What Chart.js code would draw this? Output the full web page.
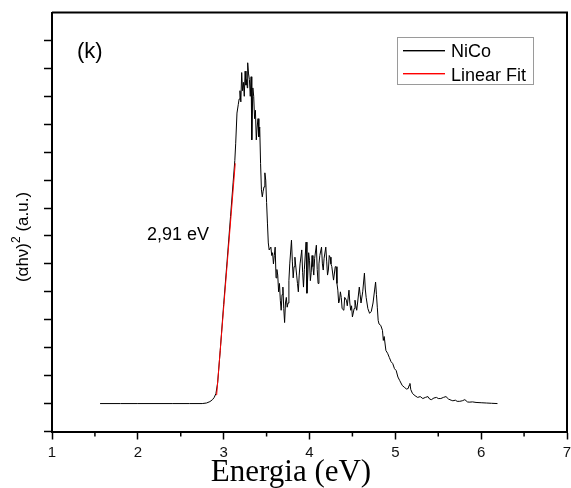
<!DOCTYPE html>
<html>
<head>
<meta charset="utf-8">
<title>NiCo - Tauc plot</title>
<script src="https://cdn.jsdelivr.net/npm/chart.js@4.4.1/dist/chart.umd.min.js"></script>
<style>
    html, body { margin: 0; padding: 0; background: #ffffff; }
    #taucChart { display: block; }
</style>
</head>
<body>
<canvas id="taucChart" width="571" height="488"></canvas>
<script>
/* ============================================
   Data
   ============================================ */

// NiCo spectrum: photon energy (eV)
const energy = [
    1.56, 1.80, 2.00, 2.20, 2.40, 2.60, 2.75, 2.80, 2.84, 2.87, 2.89, 2.91,
    2.93, 2.96, 3.00, 3.04, 3.08, 3.11, 3.13, 3.14, 3.155, 3.17, 3.18, 3.19,
    3.20, 3.21, 3.22, 3.23, 3.24, 3.25, 3.26, 3.27, 3.275, 3.28, 3.29, 3.30,
    3.31, 3.32, 3.325, 3.33, 3.34, 3.35, 3.36, 3.37, 3.38, 3.39, 3.40, 3.41,
    3.42, 3.43, 3.44, 3.45, 3.46, 3.47, 3.48, 3.49, 3.50, 3.51, 3.52, 3.53,
    3.55, 3.56, 3.57, 3.58, 3.59, 3.60, 3.61, 3.62, 3.63, 3.64, 3.65, 3.66,
    3.67, 3.68, 3.69, 3.70, 3.71, 3.72, 3.73, 3.74, 3.75, 3.76, 3.77, 3.79,
    3.80, 3.81, 3.82, 3.83, 3.85, 3.86, 3.87, 3.88, 3.89, 3.91, 3.92, 3.93,
    3.94, 3.96, 3.97, 3.98, 3.99, 4.00, 4.01, 4.02, 4.03, 4.04, 4.05, 4.06,
    4.08, 4.09, 4.10, 4.11, 4.12, 4.14, 4.15, 4.16, 4.17, 4.19, 4.20, 4.21,
    4.22, 4.23, 4.24, 4.25, 4.26, 4.28, 4.30, 4.31, 4.32, 4.33, 4.34, 4.35,
    4.36, 4.37, 4.38, 4.40, 4.41, 4.43, 4.44, 4.46, 4.47, 4.48, 4.49, 4.50,
    4.52, 4.53, 4.54, 4.55, 4.56, 4.58, 4.59, 4.60, 4.62, 4.64, 4.65, 4.66,
    4.68, 4.70, 4.72, 4.74, 4.76, 4.77, 4.78, 4.79, 4.80, 4.81, 4.83, 4.85,
    4.86, 4.87, 4.89, 4.91, 4.93, 4.95, 4.97, 4.99, 5.01, 5.03, 5.05, 5.08,
    5.11, 5.13, 5.15, 5.16, 5.17, 5.18, 5.20, 5.23, 5.26, 5.29, 5.32, 5.35,
    5.38, 5.40, 5.42, 5.45, 5.48, 5.50, 5.53, 5.56, 5.59, 5.62, 5.65, 5.67,
    5.70, 5.72, 5.75, 5.78, 5.81, 5.84, 5.86, 5.90, 5.94, 6.00, 6.06, 6.12,
    6.19
];

// NiCo spectrum: (alpha h nu)^2 in arbitrary units
const absorption = [
    0, 0, 0, 0, 0, 0, 0, 0.02, 0.07, 0.14, 0.22, 0.36,
    0.75, 1.9, 3.55, 5.1, 6.7, 7.9, 8.7, 9.3, 10.4, 10.7, 10.9, 11.2,
    10.8, 11.85, 11.2, 11.5, 11.0, 11.9, 11.4, 11.6, 11.3, 12.2, 11.8, 11.6,
    11.0, 11.7, 10.5, 9.44, 11.3, 11.0, 10.2, 10.5, 9.44, 9.9, 10.2, 9.55,
    9.9, 8.6, 7.65, 7.4, 7.6, 7.76, 8.26, 8.0, 7.2, 6.46, 5.75, 5.5,
    5.6, 5.3, 5.4, 5.0, 5.3, 5.6, 4.5, 4.8, 4.6, 4.0, 4.3, 3.7,
    3.34, 3.9, 4.17, 3.4, 2.9, 3.6, 3.8, 3.45, 3.6, 4.4, 5.0, 5.85,
    5.1, 4.5, 4.9, 5.24, 4.6, 4.3, 4.0, 4.6, 5.0, 5.5, 4.7, 4.17,
    4.8, 5.78, 3.95, 4.6, 5.4, 5.13, 4.4, 4.7, 5.3, 4.9, 4.6, 5.2,
    5.67, 4.8, 4.3, 5.0, 5.3, 5.6, 5.0, 4.78, 5.2, 5.6, 5.1, 4.6,
    4.78, 5.3, 5.24, 5.0, 4.9, 4.42, 4.9, 4.9, 4.3, 4.06, 3.6, 3.7,
    4.0, 3.8, 3.4, 3.34, 3.8, 3.7, 3.5, 4.06, 3.6, 3.34, 3.5, 3.1,
    3.4, 3.7, 3.5, 3.34, 3.6, 4.17, 3.9, 3.6, 4.0, 4.67, 4.1, 3.8,
    3.4, 3.23, 3.3, 3.6, 4.1, 4.35, 3.9, 3.45, 2.98, 2.85, 2.8, 2.62,
    2.26, 2.4, 1.9, 1.8, 1.65, 1.5, 1.43, 1.25, 1.18, 0.95, 0.83, 0.65,
    0.57, 0.52, 0.54, 0.65, 0.72, 0.5, 0.36, 0.28, 0.22, 0.25, 0.18, 0.22,
    0.25, 0.16, 0.14, 0.2, 0.22, 0.18, 0.18, 0.22, 0.25, 0.16, 0.12, 0.1,
    0.12, 0.08, 0.08, 0.1, 0.14, 0.06, 0.05, 0.06, 0.04, 0.03, 0.02, 0.01,
    0
];

// Linear fit of the absorption edge (intercept at 2,91 eV)
const fitEnergy = [2.918, 3.135];
const fitValue = [0.3, 8.6];

// Tick positions
const xTicks = [1, 2, 3, 4, 5, 6, 7];
const xMinorTicks = [1.5, 2.5, 3.5, 4.5, 5.5, 6.5];
const yTicks = [-1, 0, 1, 2, 3, 4, 5, 6, 7, 8, 9, 10, 11, 12, 13];

/* ============================================
   Helpers
   ============================================ */

const toPoints = (xs, ys) => xs.map((x, i) => ({ x: x, y: ys[i] }));

const FONT_SANS = '"Liberation Sans", Arial, sans-serif';
const FONT_SERIF = '"Liberation Serif", "Times New Roman", serif';

const SERIES_COLORS = { nico: '#000000', fit: '#ff0000' };

/**
 * Rotated y title with a real superscript
 */
function drawYTitle(ctx, cx, cy) {
    const main = '(\u03B1h\u03BD)';
    const rest = ' (a.u.)';
    ctx.save();
    ctx.translate(cx, cy);
    ctx.rotate(-Math.PI / 2);
    ctx.font = '17px ' + FONT_SANS;
    const wMain = ctx.measureText(main).width;
    const wRest = ctx.measureText(rest).width;
    ctx.font = '12px ' + FONT_SANS;
    const wSup = ctx.measureText('2').width;
    let x = -(wMain + wSup + wRest) / 2;
    ctx.textAlign = 'left';
    ctx.font = '17px ' + FONT_SANS;
    ctx.fillText(main, x, 0);
    x += wMain;
    ctx.font = '12px ' + FONT_SANS;
    ctx.fillText('2', x, -8);
    x += wSup;
    ctx.font = '17px ' + FONT_SANS;
    ctx.fillText(rest, x, 0);
    ctx.restore();
}

/**
 * Frame, minor ticks, legend box and free text
 */
const decorationsPlugin = {
    id: 'decorations',
    afterDraw(chart) {
        const ctx = chart.ctx;
        const area = chart.chartArea;
        const xScale = chart.scales.x;

        ctx.save();

        // top and right frame
        ctx.strokeStyle = '#000';
        ctx.lineWidth = 2;
        ctx.beginPath();
        ctx.moveTo(area.left, area.top);
        ctx.lineTo(area.right, area.top);
        ctx.lineTo(area.right, area.bottom);
        ctx.stroke();

        // minor ticks on the energy axis
        ctx.lineWidth = 1.5;
        ctx.beginPath();
        xMinorTicks.forEach(v => {
            const px = xScale.getPixelForValue(v);
            ctx.moveTo(px, area.bottom);
            ctx.lineTo(px, area.bottom + 5);
        });
        ctx.stroke();

        // legend
        const box = { x: 397.5, y: 37.5, w: 136, h: 47 };
        ctx.fillStyle = '#ffffff';
        ctx.fillRect(box.x, box.y, box.w, box.h);
        ctx.strokeStyle = '#9a9a9a';
        ctx.lineWidth = 1;
        ctx.strokeRect(box.x, box.y, box.w, box.h);

        ctx.font = '18px ' + FONT_SANS;
        ctx.textBaseline = 'alphabetic';
        ctx.textAlign = 'left';
        const rows = [
            { y: 50, base: 57, color: SERIES_COLORS.nico, label: chart.data.datasets[0].label },
            { y: 73, base: 80.5, color: SERIES_COLORS.fit, label: chart.data.datasets[1].label }
        ];
        rows.forEach(r => {
            ctx.fillStyle = r.color;
            ctx.fillRect(403, r.y, 42, 1.4);
            ctx.fillStyle = '#000';
            ctx.fillText(r.label, 451, r.base);
        });

        // panel label and band gap value
        ctx.fillStyle = '#000';
        ctx.font = '22px ' + FONT_SANS;
        ctx.fillText('(k)', 77, 58);
        ctx.font = '18px ' + FONT_SANS;
        ctx.fillText('2,91 eV', 147, 240);

        // x title
        ctx.font = '31px ' + FONT_SERIF;
        ctx.textAlign = 'center';
        ctx.fillText('Energia (eV)', 291, 481);
        ctx.restore();

        // y title
        ctx.fillStyle = '#000';
        drawYTitle(ctx, 28, 237);
    }
};

/* ============================================
   Chart
   ============================================ */

const canvas = document.getElementById('taucChart');

const chart = new Chart(canvas, {
    type: 'line',
    data: {
        datasets: [
            {
                label: 'NiCo',
                data: toPoints(energy, absorption),
                borderColor: SERIES_COLORS.nico,
                borderWidth: 1,
                pointRadius: 0,
                tension: 0,
                order: 1
            },
            {
                label: 'Linear Fit',
                data: toPoints(fitEnergy, fitValue),
                borderColor: SERIES_COLORS.fit,
                borderWidth: 1,
                pointRadius: 0,
                tension: 0,
                order: 0
            }
        ]
    },
    options: {
        responsive: false,
        animation: false,
        devicePixelRatio: 1,
        layout: {
            padding: { top: 12.5, right: 4, left: 0, bottom: 0 }
        },
        plugins: {
            legend: { display: false },
            tooltip: { enabled: false }
        },
        scales: {
            x: {
                type: 'linear',
                min: 1,
                max: 7,
                afterFit: scale => {
                    scale.height = 56.5;
                    scale.paddingLeft = 0;
                    scale.paddingRight = 0;
                },
                afterBuildTicks: scale => {
                    scale.ticks = xTicks.map(v => ({ value: v }));
                },
                ticks: {
                    color: '#111',
                    padding: 4,
                    maxRotation: 0,
                    font: { family: FONT_SANS, size: 15 }
                },
                grid: {
                    drawOnChartArea: false,
                    drawTicks: true,
                    tickLength: 8,
                    tickColor: '#000',
                    tickWidth: 1.5
                },
                border: { display: true, color: '#000', width: 2 }
            },
            y: {
                type: 'linear',
                min: -1,
                max: 14,
                afterFit: scale => {
                    scale.width = 52;
                    scale.paddingTop = 0;
                    scale.paddingBottom = 0;
                },
                afterBuildTicks: scale => {
                    scale.ticks = yTicks.map(v => ({ value: v }));
                },
                ticks: {
                    callback: () => ''
                },
                grid: {
                    drawOnChartArea: false,
                    drawTicks: true,
                    tickLength: 8,
                    tickColor: '#000',
                    tickWidth: 1.5
                },
                border: { display: true, color: '#000', width: 2 }
            }
        }
    },
    plugins: [decorationsPlugin]
});
</script>
</body>
</html>
